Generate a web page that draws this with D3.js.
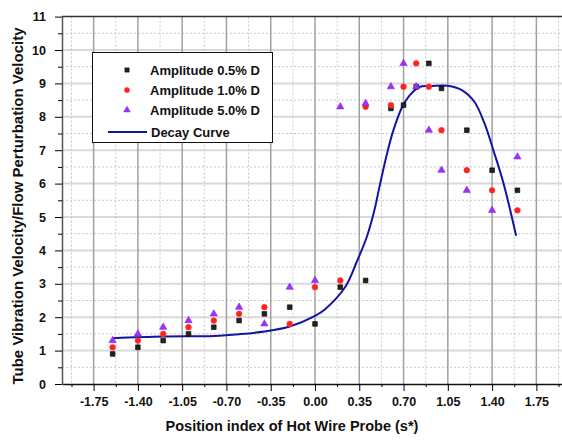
<!DOCTYPE html>
<html>
<head>
<meta charset="utf-8">
<script src="https://cdn.jsdelivr.net/npm/d3@7"></script>
<style>
  body { margin: 0; background: #fff; }
  svg { display: block; font-family: "Liberation Sans", Arial, sans-serif; font-weight: bold; }
</style>
</head>
<body>
<svg width="562" height="441"></svg>
<script>
// probe positions (s*) and the three measured series
var positions = [-1.6, -1.4, -1.2, -1.0, -0.8, -0.6, -0.4, -0.2, 0, 0.2, 0.4, 0.6, 0.7, 0.8, 0.9, 1.0, 1.2, 1.4, 1.6];
var amp05 = [0.9, 1.1, 1.3, 1.5, 1.7, 1.9, 2.1, 2.3, 1.8, 2.9, 3.1, 8.25, 8.35, 8.9, 9.6, 8.85, 7.6, 6.4, 5.8];
var amp10 = [1.1, 1.3, 1.5, 1.7, 1.9, 2.1, 2.3, 1.8, 2.9, 3.1, 8.3, 8.35, 8.9, 9.6, 8.9, 7.6, 6.4, 5.8, 5.2];
var amp50 = [1.3, 1.5, 1.7, 1.9, 2.1, 2.3, 1.8, 2.9, 3.1, 8.3, 8.4, 8.9, 9.6, 8.9, 7.6, 6.4, 5.8, 5.2, 6.8];

// decay curve
var decayX = [-1.6, -1.2, -0.8, -0.6, -0.4, -0.2, 0, 0.08, 0.24, 0.33, 0.41, 0.47, 0.51, 0.57, 0.62, 0.69, 0.75, 0.83, 0.92, 1.05, 1.16, 1.26, 1.34, 1.41, 1.49, 1.59];
var decayY = [1.37, 1.42, 1.44, 1.49, 1.57, 1.72, 2.04, 2.24, 2.91, 3.66, 4.41, 5.21, 5.91, 6.91, 7.6, 8.3, 8.65, 8.9, 8.92, 8.93, 8.8, 8.45, 7.8, 7.0, 6.01, 4.44];

var xTicks = [-1.75, -1.40, -1.05, -0.70, -0.35, 0.00, 0.35, 0.70, 1.05, 1.40, 1.75];
var xMinor = [-1.925, -1.575, -1.225, -0.875, -0.525, -0.175, 0.175, 0.525, 0.875, 1.225, 1.575, 1.925];
var yTicks = [0, 1, 2, 3, 4, 5, 6, 7, 8, 9, 10, 11];
var yMinor = [0.5, 1.5, 2.5, 3.5, 4.5, 5.5, 6.5, 7.5, 8.5, 9.5, 10.5];

var legendLabels = ['Amplitude 0.5% D', 'Amplitude 1.0% D', 'Amplitude 5.0% D', 'Decay Curve'];

var svg = d3.select('svg');
var plotL = 62, plotR = 568, plotT = 16.6, plotB = 384;

var x = d3.scaleLinear().domain([-2, 2]).range([plotL, plotR]);
var y = d3.scaleLinear().domain([0, 11]).range([plotB, plotT]);

// grid
var grid = svg.append('g');
grid.selectAll('line.hmaj')
  .data(yTicks.slice(1, 11))
  .enter()
  .append('line')
    .attr('x1', plotL).attr('x2', plotR)
    .attr('y1', d => y(d)).attr('y2', d => y(d))
    .attr('stroke', '#d9d9d9')
    .attr('stroke-width', 2);
grid.selectAll('line.hmin')
  .data(yMinor)
  .enter()
  .append('line')
    .attr('x1', plotL).attr('x2', plotR)
    .attr('y1', d => y(d)).attr('y2', d => y(d))
    .attr('stroke', '#c8c8c8')
    .attr('stroke-dasharray', '2,2');
grid.selectAll('line.vmin')
  .data(xMinor)
  .enter()
  .append('line')
    .attr('x1', d => x(d)).attr('x2', d => x(d))
    .attr('y1', plotT).attr('y2', plotB)
    .attr('stroke', '#c8c8c8')
    .attr('stroke-dasharray', '2,2');
grid.selectAll('line.vmaj')
  .data(xTicks)
  .enter()
  .append('line')
    .attr('x1', d => x(d)).attr('x2', d => x(d))
    .attr('y1', plotT).attr('y2', plotB)
    .attr('stroke', '#a0a0a0')
    .attr('stroke-width', 1.5);

// top frame
svg.append('line')
  .attr('x1', plotL).attr('x2', plotR)
  .attr('y1', plotT).attr('y2', plotT)
  .attr('stroke', '#333')
  .attr('stroke-width', 1.5);

// axes
var xAxis = svg.append('g')
  .attr('transform', 'translate(0,' + plotB + ')')
  .call(d3.axisBottom(x).tickValues(xTicks).tickSize(7).tickSizeOuter(0).tickPadding(6)
    .tickFormat(d => d.toFixed(2)));
svg.append('g')
  .attr('transform', 'translate(0,' + plotB + ')')
  .call(d3.axisBottom(x).tickValues(xMinor).tickSize(3).tickSizeOuter(0).tickFormat(''))
  .select('.domain').remove();

var yAxis = svg.append('g')
  .attr('transform', 'translate(' + plotL + ',0)')
  .call(d3.axisLeft(y).tickValues(yTicks).tickSize(7).tickSizeOuter(0).tickPadding(9));
svg.append('g')
  .attr('transform', 'translate(' + plotL + ',0)')
  .call(d3.axisLeft(y).tickValues(yMinor).tickSize(4).tickSizeOuter(0).tickFormat(''))
  .select('.domain').remove();

svg.selectAll('.tick text')
  .attr('font-family', '"Liberation Sans", Arial, sans-serif')
  .attr('font-weight', 'bold')
  .attr('font-size', 12.5)
  .attr('fill', '#111');
xAxis.select('.domain').attr('stroke', '#111').attr('stroke-width', 1.5);
yAxis.select('.domain').attr('stroke', '#555').attr('stroke-width', 1.5);

// axis titles
svg.append('text')
  .attr('x', 292)
  .attr('y', 431)
  .attr('text-anchor', 'middle')
  .attr('font-size', 14.5)
  .attr('fill', '#111')
  .text('Position index of Hot Wire Probe (s*)');
svg.append('text')
  .attr('transform', 'translate(23,206) rotate(-90)')
  .attr('text-anchor', 'middle')
  .attr('font-size', 15)
  .attr('fill', '#111')
  .text('Tube Vibration Velocity/Flow Perturbation Velocity');

// decay curve
var line = d3.line()
  .x((d, i) => x(decayX[i]))
  .y(d => y(d))
  .curve(d3.curveCatmullRom);
svg.append('path')
  .datum(decayY)
  .attr('d', line)
  .attr('fill', 'none')
  .attr('stroke', '#1414a0')
  .attr('stroke-width', 2);

// markers
var series = [
  { values: amp05, shape: d3.symbolSquare, size: 22, fill: '#222', stroke: '#000' },
  { values: amp10, shape: d3.symbolCircle, size: 26, fill: '#ff2020', stroke: '#ff4040' },
  { values: amp50, shape: d3.symbolTriangle, size: 23, fill: '#9b30ff', stroke: '#8a2be2' }
];
series.forEach(s => {
  svg.append('g')
    .selectAll('path')
    .data(s.values)
    .enter()
    .append('path')
      .attr('transform', (d, i) => 'translate(' + x(positions[i]) + ',' + y(d) + ')')
      .attr('d', d3.symbol().type(s.shape).size(s.size))
      .attr('fill', s.fill)
      .attr('stroke', s.stroke)
      .attr('stroke-width', 0.6);
});

// legend
var legend = svg.append('g');
legend.append('rect')
  .attr('x', 92.5).attr('y', 52.5)
  .attr('width', 180).attr('height', 90)
  .attr('fill', '#fff')
  .attr('stroke', '#111');
var rows = [70, 90, 110, 132];
series.forEach((s, i) => {
  legend.append('path')
    .attr('transform', 'translate(127,' + rows[i] + ')')
    .attr('d', d3.symbol().type(s.shape).size(s.size * 0.8))
    .attr('fill', s.fill)
    .attr('stroke', s.stroke)
    .attr('stroke-width', 0.6);
});
legend.append('line')
  .attr('x1', 108).attr('x2', 147)
  .attr('y1', rows[3]).attr('y2', rows[3])
  .attr('stroke', '#1414a0')
  .attr('stroke-width', 2);
legend.selectAll('text')
  .data(legendLabels)
  .enter()
  .append('text')
    .attr('x', (d, i) => i == 3 ? 151 : 150)
    .attr('y', (d, i) => rows[i] + 5)
    .attr('font-size', 13)
    .attr('fill', '#111')
    .text(d => d);
</script>
</body>
</html>
